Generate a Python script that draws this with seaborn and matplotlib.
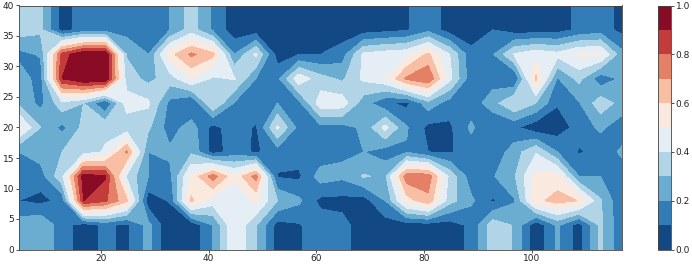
import matplotlib
matplotlib.use('Agg')
import matplotlib.pyplot as plt
import seaborn as sns
import numpy as np

# Grid coordinates
xs = [4.8, 8.8, 12.8, 16.8, 20.8, 24.8, 28.8, 32.8, 36.8, 40.8, 44.8, 48.8, 52.8, 56.8, 60.8,
      64.8, 68.8, 72.8, 76.8, 80.8, 84.8, 88.8, 92.8, 96.8, 100.8, 104.8, 108.8, 112.8, 116.8]
ys = [40, 36, 32, 28, 24, 20, 16, 12, 8, 4, 0]

# Values, one list per row
row_40 = [.35, .32, .06, .14, .15, .16, .17, .20, .35, .185, .04, .04, .04, .04, .04,
          .04, .05, .07, .09, .17, .05, .04, .10, .05, .05, .06, .12, .15, .07]
row_36 = [.35, .32, .06, .14, .15, .16, .17, .20, .35, .185, .04, .04, .04, .04, .04,
          .04, .05, .07, .09, .17, .05, .04, .10, .05, .05, .06, .12, .15, .07]
row_32 = [.17, .21, .84, 1.0, 1.0, .29, .20, .56, .72, .63, .20, .42, .05, .10, .10,
          .15, .42, .45, .47, .62, .40, .13, .19, .41, .47, .43, .515, .515, .23]
row_28 = [.26, .15, .90, 1.0, 1.0, .35, .27, .35, .50, .38, .41, .20, .17, .47, .34,
          .28, .42, .48, .72, .79, .43, .13, .15, .095, .62, .19, .33, .13, .22]
row_24 = [.28, .17, .37, .30, .098, .45, .42, .17, .09, .40, .19, .17, .20, .17, .46,
          .46, .24, .12, .072, .26, .15, .14, .26, .40, .30, .11, .19, .36, .26]
row_20 = [.53, .30, .17, .33, .38, .33, .32, .15, .25, .06, .16, .085, .42, .16, .17,
          .16, .22, .43, .21, .07, .08, .22, .098, .12, .03, .04, .14, .22, .14]
row_16 = [.20, .25, .30, .35, .41, .72, .20, .22, .28, .06, .14, .085, .15, .15, .125,
          .185, .20, .15, .19, .10, .09, .14, .13, .25, .39, .20, .09, .13, .22]
row_12 = [.14, .15, .38, .95, .91, .38, .20, .17, .52, .75, .52, .74, .09, .08, .25,
          .22, .31, .28, .76, .76, .37, .14, .19, .29, .53, .54, .20, .20, .14]
row_8 = [.10, .07, .13, .90, .82, .62, .04, .11, .62, .45, .42, .52, .30, .22, .07,
         .07, .055, .20, .55, .67, .34, .22, .085, .19, .57, .64, .595, .31, .11]
row_4 = [.25, .29, .144, .05, .123, .077, .23, .01, .02, .20, .49, .31, .06, .09, .16,
         .13, .05, .05, .05, .05, .05, .123, .36, .29, .02, .22, .05, .32, .12]
row_0 = [.25, .29, .144, .05, .123, .077, .23, .01, .02, .20, .49, .31, .06, .09, .16,
         .13, .05, .05, .05, .05, .05, .123, .36, .29, .02, .22, .05, .32, .12]

levels = np.linspace(0, 1, 11)
cbar_ticks = [0.0, 0.2, 0.4, 0.6, 0.8, 1.0]

sns.set_style('ticks')
plt.rcParams['font.family'] = ['DejaVu Sans']

z = np.array([row_40, row_36, row_32, row_28, row_24, row_20, row_16, row_12, row_8, row_4, row_0])

W, H = 692, 265
fig = plt.figure(figsize=(W / 100, H / 100), dpi=100)
ax = fig.add_axes([19 / W, 1 - 249.5 / H, 603 / W, 244 / H])
cax = fig.add_axes([658 / W, 1 - 249.5 / H, 13 / W, 244 / H])

cmap = sns.color_palette('RdBu_r', as_cmap=True)
cs = ax.contourf(xs, ys, z, levels=levels, cmap=cmap, vmin=0, vmax=1)
ax.set_xticks([20, 40, 60, 80, 100])
ax.set_yticks([0, 5, 10, 15, 20, 25, 30, 35, 40])
ax.tick_params(labelsize=6.5, length=2, width=0.6, pad=1.5, color='#333333', labelcolor='#222222')
for spine in ax.spines.values():
    spine.set_linewidth(0.6)
    spine.set_color('#444444')

cb = fig.colorbar(cs, cax=cax, ticks=cbar_ticks)
cb.ax.tick_params(labelsize=6.5, length=2, width=0.6, pad=1.5, color='#333333', labelcolor='#222222')
cb.outline.set_linewidth(0.6)
cb.outline.set_edgecolor('#444444')

fig.savefig('out.png', dpi=100)
